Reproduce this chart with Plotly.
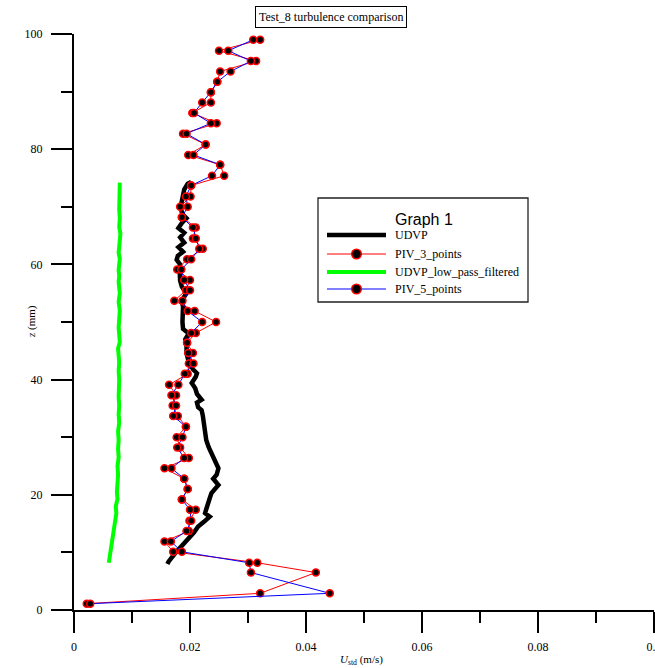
import plotly.graph_objects as go

# ---------------- data ----------------
piv_z = [99.0, 97.1, 95.3, 93.5, 91.7, 89.9, 88.1, 86.3, 84.5, 82.7, 80.8, 79.0, 77.3, 75.4,
         73.7, 71.8, 70.0, 68.2, 66.4, 64.5, 62.7, 60.9, 59.1, 57.3, 55.5, 53.7, 51.9, 50.0,
         48.1, 46.4, 44.6, 42.8, 41.0, 39.1, 37.3, 35.5, 33.7, 31.8, 30.0, 28.2, 26.4, 24.6,
         22.8, 21.0, 19.2, 17.4, 15.5, 13.7, 11.9, 10.1, 8.2, 6.5, 2.9, 1.1]
piv3_u = [0.0321, 0.0250, 0.0314, 0.0252, 0.0247, 0.0236, 0.0236, 0.0204, 0.0246, 0.0188, 0.0227,
          0.0197, 0.0252, 0.0259, 0.0202, 0.0201, 0.0183, 0.0186, 0.0210, 0.0205, 0.0222, 0.0195,
          0.0178, 0.0200, 0.0193, 0.0173, 0.0208, 0.0245, 0.0210, 0.0195, 0.0205, 0.0198, 0.0196,
          0.0164, 0.0176, 0.0170, 0.0179, 0.0193, 0.0177, 0.0183, 0.0198, 0.0156, 0.0190, 0.0196,
          0.0186, 0.0210, 0.0199, 0.0198, 0.0156, 0.0171, 0.0316, 0.0417, 0.0321, 0.0022]
piv5_u = [0.0309, 0.0266, 0.0305, 0.0270, 0.0247, 0.0236, 0.0221, 0.0207, 0.0236, 0.0194, 0.0227,
          0.0206, 0.0252, 0.0238, 0.0202, 0.0193, 0.0196, 0.0186, 0.0205, 0.0210, 0.0216, 0.0202,
          0.0185, 0.0190, 0.0200, 0.0187, 0.0196, 0.0221, 0.0202, 0.0195, 0.0197, 0.0206, 0.0191,
          0.0180, 0.0168, 0.0176, 0.0171, 0.0193, 0.0187, 0.0178, 0.0190, 0.0168, 0.0190, 0.0196,
          0.0186, 0.0200, 0.0202, 0.0194, 0.0167, 0.0186, 0.0302, 0.0305, 0.0441, 0.0028]

udvp_z = [74.3, 74.0, 73.0, 72.3, 71.0, 70.0, 69.0, 68.5, 68.0, 67.2, 66.3, 65.5, 64.7, 63.8,
          63.0, 62.2, 61.5, 60.8, 60.0, 59.2, 58.4, 57.2, 56.1, 55.0, 54.4, 53.5, 52.7, 51.5,
          50.0, 48.8, 48.0, 47.0, 46.0, 44.6, 43.0, 41.8, 41.1, 40.5, 39.4, 38.5, 37.5, 36.5,
          36.0, 35.2, 34.7, 33.8, 32.9, 31.8, 30.6, 29.5, 28.3, 27.4, 26.0, 24.6, 23.5, 22.8,
          21.7, 20.3, 19.4, 18.5, 17.5, 16.8, 16.2, 15.3, 14.5, 13.5, 12.7, 11.8, 11.0, 9.8,
          8.4, 8.0]
udvp_u = [0.0202, 0.0196, 0.0190, 0.0188, 0.0186, 0.0184, 0.0186, 0.0189, 0.0194, 0.0186, 0.0180,
          0.0190, 0.0183, 0.0190, 0.0180, 0.0188, 0.0179, 0.0177, 0.0183, 0.0182, 0.0182, 0.0183,
          0.0186, 0.0194, 0.0190, 0.0186, 0.0188, 0.0187, 0.0187, 0.0188, 0.0198, 0.0192, 0.0194,
          0.0194, 0.0198, 0.0205, 0.0212, 0.0210, 0.0203, 0.0209, 0.0212, 0.0220, 0.0212, 0.0214,
          0.0220, 0.0222, 0.0223, 0.0224, 0.0226, 0.0228, 0.0232, 0.0236, 0.0243, 0.0249, 0.0246,
          0.0240, 0.0249, 0.0237, 0.0234, 0.0232, 0.0228, 0.0226, 0.0234, 0.0224, 0.0214, 0.0207,
          0.0200, 0.0191, 0.0183, 0.0174, 0.0163, 0.0161]

lp_z = [8.2, 9.5, 11.3, 12.5, 14.4, 15.5, 16.8, 18.0, 19.3, 20.5, 22.0, 23.5, 25.0, 26.5, 28.0,
        29.5, 31.0, 32.5, 34.0, 35.5, 37.0, 38.5, 40.0, 41.5, 43.0, 45.4, 46.5, 47.8, 49.0, 50.5,
        52.0, 53.5, 55.0, 56.0, 57.0, 58.0, 59.0, 60.0, 61.0, 62.0, 63.0, 64.2, 65.3, 66.5, 68.0,
        69.5, 71.0, 72.5, 74.2]
lp_u = [0.0060, 0.0062, 0.0064, 0.0066, 0.0069, 0.0071, 0.0073, 0.0072, 0.0075, 0.0074, 0.0075,
        0.0076, 0.0075, 0.0077, 0.0076, 0.0077, 0.0076, 0.0078, 0.0077, 0.0078, 0.0077, 0.0078,
        0.0078, 0.0077, 0.0078, 0.0076, 0.0079, 0.0078, 0.0077, 0.0078, 0.0079, 0.0077, 0.0079,
        0.0078, 0.0077, 0.0078, 0.0077, 0.0078, 0.0079, 0.0077, 0.0078, 0.0079, 0.0080, 0.0078,
        0.0079, 0.0078, 0.0078, 0.0079, 0.0079]

x_ticks = [0, 0.02, 0.04, 0.06, 0.08, 0.1]
x_ticklabels = ["0", "0.02", "0.04", "0.06", "0.08", "0.1"]
y_ticks = [0, 20, 40, 60, 80, 100]
y_ticklabels = ["0", "20", "40", "60", "80", "100"]

title_text = "Test_8 turbulence comparison"
legend_title = "Graph 1"
names = ["UDVP", "PIV_3_points", "UDVP_low_pass_filtered", "PIV_5_points"]
x_title = "<i>U</i><sub>std</sub> (m/s)"
y_title = "<i>z</i> (mm)"

# ---------------- layout geometry ----------------
W, H = 655, 668
L, R, T, B = 74, 1, 34, 58
PW, PH = W - L - R, H - T - B
SERIF = "Liberation Serif, Times New Roman, serif"
SANS = "Liberation Sans, Arial, sans-serif"


def px(x):
    return (x - L) / PW


def py(y):
    return (H - B - y) / PH


marker_style = dict(symbol="circle", size=7, color="black", line=dict(color="#ff0000", width=1.5))

fig = go.Figure()
fig.add_trace(go.Scatter(x=udvp_u, y=udvp_z, mode="lines", name=names[0],
                         line=dict(color="black", width=4.5), showlegend=False))
fig.add_trace(go.Scatter(x=piv3_u, y=piv_z, mode="lines+markers", name=names[1],
                         line=dict(color="#ff0000", width=1), marker=marker_style, showlegend=False))
fig.add_trace(go.Scatter(x=lp_u, y=lp_z, mode="lines", name=names[2],
                         line=dict(color="#00ff00", width=4), showlegend=False))
fig.add_trace(go.Scatter(x=piv5_u, y=piv_z, mode="lines+markers", name=names[3],
                         line=dict(color="#0000ff", width=1), marker=marker_style, showlegend=False))

shapes = []
annotations = []

# legend box (drawn manually)
shapes.append(dict(type="rect", xref="paper", yref="paper", x0=px(318), x1=px(528),
                   y0=py(302), y1=py(198), line=dict(color="#222", width=1.3),
                   fillcolor="white", layer="above"))
annotations.append(dict(xref="paper", yref="paper", x=px(393), y=py(219), text=legend_title,
                        showarrow=False, xanchor="left", yanchor="middle",
                        font=dict(family=SANS, size=16, color="black")))
item_y = [235, 254, 272, 289]
item_col = ["black", "#ff0000", "#00ff00", "#0000ff"]
item_w = [4.5, 1, 4, 1]
item_mark = [False, True, False, True]
for i in range(4):
    yy = py(item_y[i])
    shapes.append(dict(type="line", xref="paper", yref="paper", x0=px(327), x1=px(386),
                       y0=yy, y1=yy, line=dict(color=item_col[i], width=item_w[i]), layer="above"))
    if item_mark[i]:
        r = 4.8
        shapes.append(dict(type="circle", xref="paper", yref="paper",
                           x0=px(356.5 - r), x1=px(356.5 + r), y0=py(item_y[i] + r), y1=py(item_y[i] - r),
                           fillcolor="black", line=dict(color="#ff0000", width=1.5), layer="above"))
    annotations.append(dict(xref="paper", yref="paper", x=px(393), y=yy, text=names[i],
                            showarrow=False, xanchor="left", yanchor="middle",
                            font=dict(family=SERIF, size=12, color="black")))

# chart title in a box
annotations.append(dict(xref="paper", yref="paper", x=px(330.5), y=py(17), text=title_text,
                        showarrow=False, xanchor="center", yanchor="middle",
                        bordercolor="black", borderwidth=1, borderpad=3, bgcolor="white",
                        font=dict(family=SERIF, size=12, color="black")))

# axis titles
annotations.append(dict(xref="paper", yref="paper", x=px(31), y=0.5, text=y_title, textangle=-90,
                        showarrow=False, xanchor="center", yanchor="middle",
                        font=dict(family=SERIF, size=11, color="black")))
annotations.append(dict(xref="paper", yref="paper", x=px(361), y=py(660), text=x_title,
                        showarrow=False, xanchor="center", yanchor="middle",
                        font=dict(family=SERIF, size=11, color="black")))

axis_common = dict(showgrid=False, zeroline=False, showline=True, linecolor="black", linewidth=2,
                   ticks="outside", ticklen=21, tickwidth=2, tickcolor="black",
                   ticklabeloverflow="allow",
                   tickfont=dict(family=SERIF, size=12, color="black"))

fig.update_layout(
    width=W, height=H, margin=dict(l=L, r=R, t=T, b=B, autoexpand=False),
    paper_bgcolor="white", plot_bgcolor="white",
    shapes=shapes, annotations=annotations,
    xaxis=dict(range=[0, 0.1], tickvals=x_ticks, ticktext=x_ticklabels,
               minor=dict(dtick=0.01, ticks="outside", ticklen=11, tickwidth=2, tickcolor="black"),
               ticklabelstandoff=4, **axis_common),
    yaxis=dict(range=[0, 100], tickvals=y_ticks, ticktext=y_ticklabels,
               minor=dict(dtick=10, ticks="outside", ticklen=11, tickwidth=2, tickcolor="black"),
               ticklabelstandoff=6, **axis_common),
    showlegend=False,
)

fig.write_html("out.html")
